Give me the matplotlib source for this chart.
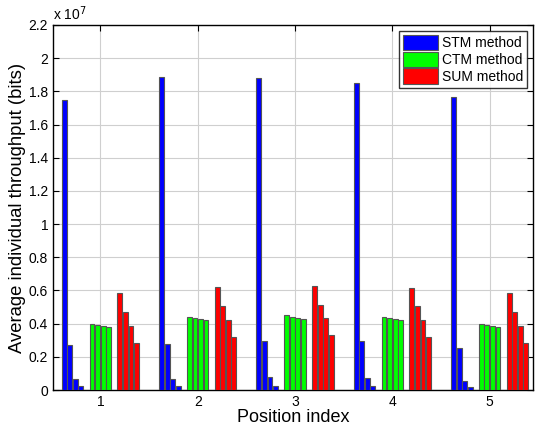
import numpy as np
import matplotlib
matplotlib.use("Agg")
import matplotlib.pyplot as plt
from matplotlib.ticker import FuncFormatter, MultipleLocator

plt.rcParams['font.family'] = ['Liberation Sans', 'DejaVu Sans']

positions = [1, 2, 3, 4, 5]
series_names = ["STM method", "CTM method", "SUM method"]
colors = ["#0000ff", "#00ff00", "#ff0000"]

# values in bits, 4 bars per method per position
stm = [
    [1.746e7, 0.269e7, 0.066e7, 0.022e7],
    [1.889e7, 0.280e7, 0.066e7, 0.024e7],
    [1.881e7, 0.293e7, 0.076e7, 0.024e7],
    [1.852e7, 0.297e7, 0.072e7, 0.024e7],
    [1.768e7, 0.253e7, 0.056e7, 0.020e7],
]
ctm = [
    [0.398e7, 0.390e7, 0.384e7, 0.378e7],
    [0.440e7, 0.432e7, 0.426e7, 0.420e7],
    [0.450e7, 0.440e7, 0.434e7, 0.428e7],
    [0.440e7, 0.434e7, 0.428e7, 0.422e7],
    [0.398e7, 0.390e7, 0.386e7, 0.380e7],
]
sum_m = [
    [0.583e7, 0.470e7, 0.386e7, 0.283e7],
    [0.621e7, 0.504e7, 0.420e7, 0.319e7],
    [0.625e7, 0.512e7, 0.432e7, 0.330e7],
    [0.617e7, 0.504e7, 0.422e7, 0.321e7],
    [0.583e7, 0.470e7, 0.384e7, 0.283e7],
]
methods = [stm, ctm, sum_m]

fig = plt.figure(figsize=(5.36, 4.29), dpi=100)
ax = fig.add_axes([53/536, 1-390/429, 480/536, 365/429])

nslots = 14
slot = 0.8 / nslots
x = np.array(positions, dtype=float)
for m, (vals, name, col) in enumerate(zip(methods, series_names, colors)):
    vals = np.array(vals)
    for j in range(4):
        k = m * 5 + j
        off = (k - (nslots - 1) / 2) * slot
        ax.bar(x + off, vals[:, j], width=0.05, color=col, edgecolor='#555555',
               linewidth=0.8, label=name if j == 0 else None, zorder=3)

ax.set_xlim(0.513, 5.445)
ax.set_ylim(0, 2.2e7)
ax.set_xticks(positions)
ax.yaxis.set_major_locator(MultipleLocator(0.2e7))
ax.yaxis.set_major_formatter(FuncFormatter(lambda v, p: f"{v/1e7:g}"))
ax.grid(True, color='#cfcfcf', linewidth=0.8, zorder=0)
ax.tick_params(direction='in', labelsize=10, length=4, top=True, right=True,
               labeltop=False, labelright=False)
for s in ax.spines.values():
    s.set_linewidth(1.0)
ax.text(0.0, 1.005, r'x 10$^{7}$', transform=ax.transAxes, fontsize=10,
        ha='left', va='bottom')
ax.set_xlabel("Position index", fontsize=13, labelpad=0)
ax.set_ylabel("Average individual throughput (bits)", fontsize=13.3, labelpad=2)

leg = ax.legend(loc='upper right', fontsize=10, frameon=True, fancybox=False,
                edgecolor='black', handlelength=2.5, handleheight=1.3,
                handletextpad=0.3, borderpad=0.3, labelspacing=0.12,
                borderaxespad=0.4)
leg.get_frame().set_linewidth(1.0)
leg.set_zorder(5)

fig.savefig("out.png", dpi=100)
